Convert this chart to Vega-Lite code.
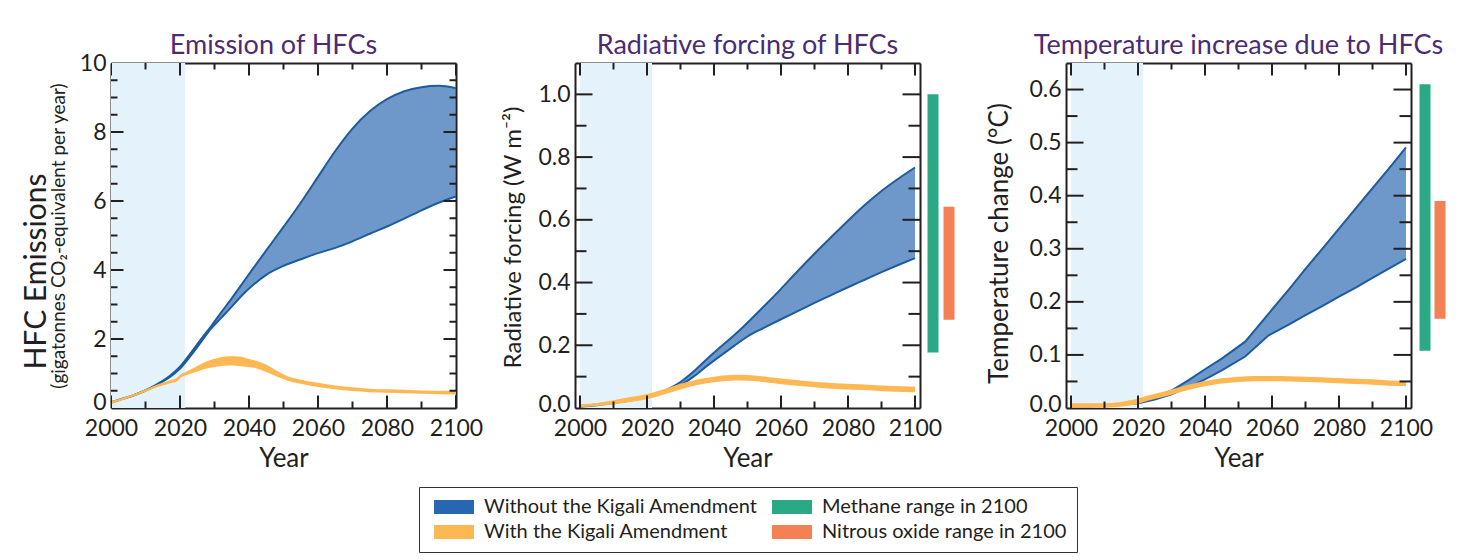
{
  "$schema": "https://vega.github.io/schema/vega-lite/v6.json",
  "autosize": "none",
  "padding": {"left": 111, "top": 63, "right": 1350, "bottom": 497},
  "background": "white",
  "datasets": {
    "hist": [{"start": 2000, "end": 2021.5}],
    "xt": [
      {"v": 2000, "kind": "major"}, {"v": 2010, "kind": "minor"}, {"v": 2020, "kind": "major"}, {"v": 2030, "kind": "minor"},
      {"v": 2040, "kind": "major"}, {"v": 2050, "kind": "minor"}, {"v": 2060, "kind": "major"}, {"v": 2070, "kind": "minor"},
      {"v": 2080, "kind": "major"}, {"v": 2090, "kind": "minor"}, {"v": 2100, "kind": "major"}
    ],
    "yt1": [
      {"v": 0.5, "kind": "minor"}, {"v": 1, "kind": "minor"}, {"v": 1.5, "kind": "minor"}, {"v": 2, "kind": "major"},
      {"v": 2.5, "kind": "minor"}, {"v": 3, "kind": "minor"}, {"v": 3.5, "kind": "minor"}, {"v": 4, "kind": "major"},
      {"v": 4.5, "kind": "minor"}, {"v": 5, "kind": "minor"}, {"v": 5.5, "kind": "minor"}, {"v": 6, "kind": "major"},
      {"v": 6.5, "kind": "minor"}, {"v": 7, "kind": "minor"}, {"v": 7.5, "kind": "minor"}, {"v": 8, "kind": "major"},
      {"v": 8.5, "kind": "minor"}, {"v": 9, "kind": "minor"}, {"v": 9.5, "kind": "minor"}
    ],
    "yt2": [
      {"v": 0.1, "kind": "minor"}, {"v": 0.2, "kind": "major"}, {"v": 0.3, "kind": "minor"}, {"v": 0.4, "kind": "major"},
      {"v": 0.5, "kind": "minor"}, {"v": 0.6, "kind": "major"}, {"v": 0.7, "kind": "minor"}, {"v": 0.8, "kind": "major"},
      {"v": 0.9, "kind": "minor"}, {"v": 1.0, "kind": "major"}
    ],
    "yt3": [
      {"v": 0.05, "kind": "minor"}, {"v": 0.1, "kind": "major"}, {"v": 0.15, "kind": "minor"}, {"v": 0.2, "kind": "major"},
      {"v": 0.25, "kind": "minor"}, {"v": 0.3, "kind": "major"}, {"v": 0.35, "kind": "minor"}, {"v": 0.4, "kind": "major"},
      {"v": 0.45, "kind": "minor"}, {"v": 0.5, "kind": "major"}, {"v": 0.55, "kind": "minor"}, {"v": 0.6, "kind": "major"}
    ],
    "p1": [
      {"year": 2000, "series": "Without the Kigali Amendment", "lo": 0.16, "hi": 0.17},
      {"year": 2004, "series": "Without the Kigali Amendment", "lo": 0.28, "hi": 0.29},
      {"year": 2008, "series": "Without the Kigali Amendment", "lo": 0.42, "hi": 0.43},
      {"year": 2011, "series": "Without the Kigali Amendment", "lo": 0.55, "hi": 0.56},
      {"year": 2014, "series": "Without the Kigali Amendment", "lo": 0.71, "hi": 0.73},
      {"year": 2017, "series": "Without the Kigali Amendment", "lo": 0.89, "hi": 0.93},
      {"year": 2020, "series": "Without the Kigali Amendment", "lo": 1.14, "hi": 1.2},
      {"year": 2023, "series": "Without the Kigali Amendment", "lo": 1.5, "hi": 1.58},
      {"year": 2026, "series": "Without the Kigali Amendment", "lo": 1.9, "hi": 1.98},
      {"year": 2029, "series": "Without the Kigali Amendment", "lo": 2.3, "hi": 2.37},
      {"year": 2032, "series": "Without the Kigali Amendment", "lo": 2.62, "hi": 2.78},
      {"year": 2035, "series": "Without the Kigali Amendment", "lo": 2.94, "hi": 3.18},
      {"year": 2038, "series": "Without the Kigali Amendment", "lo": 3.27, "hi": 3.6},
      {"year": 2041, "series": "Without the Kigali Amendment", "lo": 3.55, "hi": 4.02},
      {"year": 2045, "series": "Without the Kigali Amendment", "lo": 3.86, "hi": 4.57},
      {"year": 2050, "series": "Without the Kigali Amendment", "lo": 4.12, "hi": 5.25},
      {"year": 2055, "series": "Without the Kigali Amendment", "lo": 4.31, "hi": 5.95},
      {"year": 2060, "series": "Without the Kigali Amendment", "lo": 4.49, "hi": 6.7},
      {"year": 2065, "series": "Without the Kigali Amendment", "lo": 4.64, "hi": 7.45},
      {"year": 2070, "series": "Without the Kigali Amendment", "lo": 4.83, "hi": 8.1},
      {"year": 2075, "series": "Without the Kigali Amendment", "lo": 5.05, "hi": 8.6},
      {"year": 2080, "series": "Without the Kigali Amendment", "lo": 5.26, "hi": 8.95},
      {"year": 2085, "series": "Without the Kigali Amendment", "lo": 5.49, "hi": 9.18},
      {"year": 2090, "series": "Without the Kigali Amendment", "lo": 5.73, "hi": 9.3},
      {"year": 2095, "series": "Without the Kigali Amendment", "lo": 5.95, "hi": 9.34},
      {"year": 2100, "series": "Without the Kigali Amendment", "lo": 6.13, "hi": 9.27},
      {"year": 2000, "series": "With the Kigali Amendment", "lo": 0.12, "hi": 0.2},
      {"year": 2004, "series": "With the Kigali Amendment", "lo": 0.25, "hi": 0.32},
      {"year": 2008, "series": "With the Kigali Amendment", "lo": 0.39, "hi": 0.46},
      {"year": 2011, "series": "With the Kigali Amendment", "lo": 0.51, "hi": 0.58},
      {"year": 2014, "series": "With the Kigali Amendment", "lo": 0.62, "hi": 0.7},
      {"year": 2017, "series": "With the Kigali Amendment", "lo": 0.71, "hi": 0.8},
      {"year": 2019, "series": "With the Kigali Amendment", "lo": 0.76, "hi": 0.87},
      {"year": 2020.5, "series": "With the Kigali Amendment", "lo": 0.9, "hi": 1.0},
      {"year": 2022, "series": "With the Kigali Amendment", "lo": 0.96, "hi": 1.06},
      {"year": 2025, "series": "With the Kigali Amendment", "lo": 1.06, "hi": 1.22},
      {"year": 2028, "series": "With the Kigali Amendment", "lo": 1.15, "hi": 1.36},
      {"year": 2031, "series": "With the Kigali Amendment", "lo": 1.2, "hi": 1.45},
      {"year": 2034, "series": "With the Kigali Amendment", "lo": 1.23, "hi": 1.5},
      {"year": 2037, "series": "With the Kigali Amendment", "lo": 1.22, "hi": 1.49},
      {"year": 2040, "series": "With the Kigali Amendment", "lo": 1.19, "hi": 1.42},
      {"year": 2042, "series": "With the Kigali Amendment", "lo": 1.15, "hi": 1.37},
      {"year": 2045, "series": "With the Kigali Amendment", "lo": 1.04, "hi": 1.26},
      {"year": 2048, "series": "With the Kigali Amendment", "lo": 0.91, "hi": 1.08},
      {"year": 2051, "series": "With the Kigali Amendment", "lo": 0.8, "hi": 0.93},
      {"year": 2055, "series": "With the Kigali Amendment", "lo": 0.7, "hi": 0.82},
      {"year": 2060, "series": "With the Kigali Amendment", "lo": 0.61, "hi": 0.73},
      {"year": 2065, "series": "With the Kigali Amendment", "lo": 0.54, "hi": 0.65},
      {"year": 2070, "series": "With the Kigali Amendment", "lo": 0.49, "hi": 0.6},
      {"year": 2075, "series": "With the Kigali Amendment", "lo": 0.46, "hi": 0.56},
      {"year": 2080, "series": "With the Kigali Amendment", "lo": 0.44, "hi": 0.54},
      {"year": 2090, "series": "With the Kigali Amendment", "lo": 0.41, "hi": 0.51},
      {"year": 2100, "series": "With the Kigali Amendment", "lo": 0.39, "hi": 0.5}
    ],
    "p2": [
      {"year": 2000, "series": "Without the Kigali Amendment", "lo": 0.004, "hi": 0.006},
      {"year": 2005, "series": "Without the Kigali Amendment", "lo": 0.009, "hi": 0.011},
      {"year": 2010, "series": "Without the Kigali Amendment", "lo": 0.016, "hi": 0.018},
      {"year": 2015, "series": "Without the Kigali Amendment", "lo": 0.024, "hi": 0.026},
      {"year": 2020, "series": "Without the Kigali Amendment", "lo": 0.034, "hi": 0.036},
      {"year": 2023, "series": "Without the Kigali Amendment", "lo": 0.043, "hi": 0.046},
      {"year": 2026, "series": "Without the Kigali Amendment", "lo": 0.054, "hi": 0.059},
      {"year": 2030, "series": "Without the Kigali Amendment", "lo": 0.073, "hi": 0.083},
      {"year": 2034, "series": "Without the Kigali Amendment", "lo": 0.101, "hi": 0.117},
      {"year": 2038, "series": "Without the Kigali Amendment", "lo": 0.135, "hi": 0.157},
      {"year": 2042, "series": "Without the Kigali Amendment", "lo": 0.167, "hi": 0.195},
      {"year": 2046, "series": "Without the Kigali Amendment", "lo": 0.198, "hi": 0.232},
      {"year": 2050, "series": "Without the Kigali Amendment", "lo": 0.228, "hi": 0.272},
      {"year": 2055, "series": "Without the Kigali Amendment", "lo": 0.256, "hi": 0.325},
      {"year": 2060, "series": "Without the Kigali Amendment", "lo": 0.283, "hi": 0.38},
      {"year": 2065, "series": "Without the Kigali Amendment", "lo": 0.309, "hi": 0.437},
      {"year": 2070, "series": "Without the Kigali Amendment", "lo": 0.335, "hi": 0.492},
      {"year": 2075, "series": "Without the Kigali Amendment", "lo": 0.36, "hi": 0.545},
      {"year": 2080, "series": "Without the Kigali Amendment", "lo": 0.385, "hi": 0.597},
      {"year": 2085, "series": "Without the Kigali Amendment", "lo": 0.409, "hi": 0.647},
      {"year": 2090, "series": "Without the Kigali Amendment", "lo": 0.433, "hi": 0.692},
      {"year": 2095, "series": "Without the Kigali Amendment", "lo": 0.456, "hi": 0.731},
      {"year": 2100, "series": "Without the Kigali Amendment", "lo": 0.478, "hi": 0.767},
      {"year": 2000, "series": "With the Kigali Amendment", "lo": 0.002, "hi": 0.012},
      {"year": 2005, "series": "With the Kigali Amendment", "lo": 0.006, "hi": 0.016},
      {"year": 2010, "series": "With the Kigali Amendment", "lo": 0.011, "hi": 0.025},
      {"year": 2015, "series": "With the Kigali Amendment", "lo": 0.019, "hi": 0.035},
      {"year": 2020, "series": "With the Kigali Amendment", "lo": 0.028, "hi": 0.045},
      {"year": 2025, "series": "With the Kigali Amendment", "lo": 0.043, "hi": 0.06},
      {"year": 2030, "series": "With the Kigali Amendment", "lo": 0.059, "hi": 0.077},
      {"year": 2035, "series": "With the Kigali Amendment", "lo": 0.073, "hi": 0.091},
      {"year": 2040, "series": "With the Kigali Amendment", "lo": 0.082, "hi": 0.1},
      {"year": 2045, "series": "With the Kigali Amendment", "lo": 0.087, "hi": 0.105},
      {"year": 2048, "series": "With the Kigali Amendment", "lo": 0.088, "hi": 0.106},
      {"year": 2052, "series": "With the Kigali Amendment", "lo": 0.086, "hi": 0.104},
      {"year": 2056, "series": "With the Kigali Amendment", "lo": 0.081, "hi": 0.099},
      {"year": 2060, "series": "With the Kigali Amendment", "lo": 0.076, "hi": 0.094},
      {"year": 2066, "series": "With the Kigali Amendment", "lo": 0.07, "hi": 0.088},
      {"year": 2072, "series": "With the Kigali Amendment", "lo": 0.064, "hi": 0.082},
      {"year": 2078, "series": "With the Kigali Amendment", "lo": 0.06, "hi": 0.078},
      {"year": 2085, "series": "With the Kigali Amendment", "lo": 0.057, "hi": 0.075},
      {"year": 2092, "series": "With the Kigali Amendment", "lo": 0.053, "hi": 0.071},
      {"year": 2100, "series": "With the Kigali Amendment", "lo": 0.05, "hi": 0.068}
    ],
    "p3": [
      {"year": 2000, "series": "Without the Kigali Amendment", "lo": 0.003, "hi": 0.004},
      {"year": 2005, "series": "Without the Kigali Amendment", "lo": 0.003, "hi": 0.004},
      {"year": 2010, "series": "Without the Kigali Amendment", "lo": 0.004, "hi": 0.005},
      {"year": 2015, "series": "Without the Kigali Amendment", "lo": 0.006, "hi": 0.007},
      {"year": 2020, "series": "Without the Kigali Amendment", "lo": 0.009, "hi": 0.011},
      {"year": 2025, "series": "Without the Kigali Amendment", "lo": 0.016, "hi": 0.02},
      {"year": 2030, "series": "Without the Kigali Amendment", "lo": 0.026, "hi": 0.033},
      {"year": 2035, "series": "Without the Kigali Amendment", "lo": 0.039, "hi": 0.052},
      {"year": 2040, "series": "Without the Kigali Amendment", "lo": 0.054, "hi": 0.073},
      {"year": 2045, "series": "Without the Kigali Amendment", "lo": 0.071, "hi": 0.093},
      {"year": 2052, "series": "Without the Kigali Amendment", "lo": 0.097, "hi": 0.125},
      {"year": 2059, "series": "Without the Kigali Amendment", "lo": 0.137, "hi": 0.178},
      {"year": 2065, "series": "Without the Kigali Amendment", "lo": 0.157, "hi": 0.223},
      {"year": 2070, "series": "Without the Kigali Amendment", "lo": 0.175, "hi": 0.262},
      {"year": 2075, "series": "Without the Kigali Amendment", "lo": 0.192, "hi": 0.3},
      {"year": 2080, "series": "Without the Kigali Amendment", "lo": 0.21, "hi": 0.338},
      {"year": 2085, "series": "Without the Kigali Amendment", "lo": 0.227, "hi": 0.376},
      {"year": 2090, "series": "Without the Kigali Amendment", "lo": 0.245, "hi": 0.414},
      {"year": 2095, "series": "Without the Kigali Amendment", "lo": 0.263, "hi": 0.452},
      {"year": 2100, "series": "Without the Kigali Amendment", "lo": 0.281, "hi": 0.491},
      {"year": 2000, "series": "With the Kigali Amendment", "lo": 0.0005, "hi": 0.009},
      {"year": 2010, "series": "With the Kigali Amendment", "lo": 0.0005, "hi": 0.009},
      {"year": 2014, "series": "With the Kigali Amendment", "lo": 0.002, "hi": 0.011},
      {"year": 2018, "series": "With the Kigali Amendment", "lo": 0.005, "hi": 0.015},
      {"year": 2021, "series": "With the Kigali Amendment", "lo": 0.01, "hi": 0.02},
      {"year": 2025, "series": "With the Kigali Amendment", "lo": 0.017, "hi": 0.027},
      {"year": 2030, "series": "With the Kigali Amendment", "lo": 0.025, "hi": 0.035},
      {"year": 2035, "series": "With the Kigali Amendment", "lo": 0.034, "hi": 0.044},
      {"year": 2040, "series": "With the Kigali Amendment", "lo": 0.041, "hi": 0.051},
      {"year": 2045, "series": "With the Kigali Amendment", "lo": 0.046, "hi": 0.056},
      {"year": 2050, "series": "With the Kigali Amendment", "lo": 0.049, "hi": 0.059},
      {"year": 2055, "series": "With the Kigali Amendment", "lo": 0.0505, "hi": 0.0605},
      {"year": 2060, "series": "With the Kigali Amendment", "lo": 0.0505, "hi": 0.0605},
      {"year": 2065, "series": "With the Kigali Amendment", "lo": 0.05, "hi": 0.06},
      {"year": 2070, "series": "With the Kigali Amendment", "lo": 0.049, "hi": 0.059},
      {"year": 2075, "series": "With the Kigali Amendment", "lo": 0.048, "hi": 0.058},
      {"year": 2080, "series": "With the Kigali Amendment", "lo": 0.0465, "hi": 0.0565},
      {"year": 2085, "series": "With the Kigali Amendment", "lo": 0.045, "hi": 0.055},
      {"year": 2090, "series": "With the Kigali Amendment", "lo": 0.044, "hi": 0.054},
      {"year": 2095, "series": "With the Kigali Amendment", "lo": 0.042, "hi": 0.052},
      {"year": 2100, "series": "With the Kigali Amendment", "lo": 0.041, "hi": 0.051}
    ],
    "r2": [
      {"gas": "Methane range in 2100", "year": 2100, "lo": 0.177, "hi": 1.0},
      {"gas": "Nitrous oxide range in 2100", "year": 2100, "lo": 0.281, "hi": 0.642}
    ],
    "r3": [
      {"gas": "Methane range in 2100", "year": 2100, "lo": 0.108, "hi": 0.61},
      {"gas": "Nitrous oxide range in 2100", "year": 2100, "lo": 0.168, "hi": 0.39}
    ]
  },
  "hconcat": [
    {
      "width": 345, "height": 345,
      "title": {"text": "Emission of HFCs", "dy": 17, "dx": -10},
      "layer": [
        {"data": {"name": "hist"}, "mark": {"type": "rect", "color": "#E4F3FB"},
         "encoding": {"x": {"field": "start", "type": "quantitative", "scale": {"domain": [2000, 2100], "nice": false, "zero": false},
           "axis": {"orient": "bottom", "values": [2000, 2020, 2040, 2060, 2080, 2100], "format": "d", "ticks": false, "domain": true, "labelPadding": 9, "title": "Year", "titleY": 58, "titleBaseline": "alphabetic"}},
           "x2": {"field": "end"}}},
        {"data": {"name": "p1"}, "transform": [{"filter": "datum.series === 'Without the Kigali Amendment'"}],
         "mark": {"type": "area", "interpolate": "monotone", "fillOpacity": 0.67},
         "encoding": {
           "x": {"field": "year", "type": "quantitative", "scale": {"domain": [2000, 2100], "nice": false, "zero": false},
                 "axis": {"orient": "top", "domain": true, "ticks": false, "labels": false, "title": null}},
           "y": {"field": "lo", "type": "quantitative", "scale": {"domain": [0, 10], "nice": false},
                 "axis": {"orient": "left", "values": [0, 2, 4, 6, 8, 10], "format": "d", "ticks": false, "domain": true, "labelPadding": 5, "labelOffset": {"condition": {"test": "datum.value === 0", "value": -6}, "value": 0}, "title": "HFC Emissions", "titleFontSize": 30, "titleX": -66, "titleY": 208, "titleAngle": 270, "titleAlign": "center", "titleBaseline": "alphabetic"}},
           "y2": {"field": "hi"},
           "color": {"field": "series", "type": "nominal", "scale": {"domain": ["Without the Kigali Amendment", "With the Kigali Amendment", "Methane range in 2100", "Nitrous oxide range in 2100"], "range": ["#2766B0", "#FDB853", "#2BA985", "#F48154"]}, "legend": null}
         }},
        {"data": {"name": "p1"}, "transform": [{"filter": "datum.series === 'Without the Kigali Amendment'"}],
         "mark": {"type": "line", "interpolate": "monotone", "color": "#1D5C9E", "strokeWidth": 2},
         "encoding": {
           "x": {"field": "year", "type": "quantitative", "scale": {"domain": [2000, 2100], "nice": false, "zero": false}, "axis": null},
           "y": {"field": "hi", "type": "quantitative", "scale": {"domain": [0, 10], "nice": false},
                 "axis": {"orient": "right", "domain": true, "ticks": false, "labels": false, "title": null}}
         }},
        {"data": {"name": "p1"}, "transform": [{"filter": "datum.series === 'Without the Kigali Amendment'"}],
         "mark": {"type": "line", "interpolate": "monotone", "color": "#1D5C9E", "strokeWidth": 2},
         "encoding": {
           "x": {"field": "year", "type": "quantitative", "scale": {"domain": [2000, 2100], "nice": false, "zero": false}, "axis": null},
           "y": {"field": "lo", "type": "quantitative", "scale": {"domain": [0, 10], "nice": false}, "axis": null}
         }},
        {"data": {"name": "p1"}, "transform": [{"filter": "datum.series === 'With the Kigali Amendment'"}],
         "mark": {"type": "area", "interpolate": "monotone"},
         "encoding": {
           "x": {"field": "year", "type": "quantitative", "scale": {"domain": [2000, 2100], "nice": false, "zero": false}, "axis": null},
           "y": {"field": "lo", "type": "quantitative", "scale": {"domain": [0, 10], "nice": false},
                 "axis": {"orient": "left", "ticks": false, "labels": false, "domain": false, "title": "(gigatonnes CO₂-equivalent per year)", "titleFontSize": 19, "titleX": -47, "titleY": 172.5, "titleAngle": 270, "titleAlign": "center", "titleBaseline": "alphabetic"}},
           "y2": {"field": "hi"},
           "color": {"field": "series", "type": "nominal", "scale": {"domain": ["Without the Kigali Amendment", "With the Kigali Amendment", "Methane range in 2100", "Nitrous oxide range in 2100"], "range": ["#2766B0", "#FDB853", "#2BA985", "#F48154"]}, "legend": null}
         }},
        {"data": {"name": "xt"}, "mark": {"type": "tick", "orient": "vertical", "clip": true, "color": "#231F20", "thickness": 2, "opacity": 1},
         "encoding": {"x": {"field": "v", "type": "quantitative", "scale": {"domain": [2000, 2100], "nice": false, "zero": false}, "axis": null},
           "y": {"datum": 10, "type": "quantitative", "scale": {"domain": [0, 10], "nice": false}, "axis": null},
           "size": {"field": "kind", "type": "ordinal", "scale": {"domain": ["major", "minor"], "range": [25, 13]}, "legend": null}}},
        {"data": {"name": "xt"}, "mark": {"type": "tick", "orient": "vertical", "clip": true, "color": "#231F20", "thickness": 2, "opacity": 1},
         "encoding": {"x": {"field": "v", "type": "quantitative", "scale": {"domain": [2000, 2100], "nice": false, "zero": false}, "axis": null},
           "y": {"datum": 0, "type": "quantitative", "scale": {"domain": [0, 10], "nice": false}, "axis": null},
           "size": {"field": "kind", "type": "ordinal", "scale": {"domain": ["major", "minor"], "range": [25, 13]}, "legend": null}}},
        {"data": {"name": "yt1"}, "mark": {"type": "tick", "orient": "horizontal", "clip": true, "color": "#231F20", "thickness": 2, "opacity": 1},
         "encoding": {"y": {"field": "v", "type": "quantitative", "scale": {"domain": [0, 10], "nice": false}, "axis": null},
           "x": {"datum": 2000, "type": "quantitative", "scale": {"domain": [2000, 2100], "nice": false, "zero": false}, "axis": null},
           "size": {"field": "kind", "type": "ordinal", "scale": {"domain": ["major", "minor"], "range": [25, 13]}, "legend": null}}},
        {"data": {"name": "yt1"}, "mark": {"type": "tick", "orient": "horizontal", "clip": true, "color": "#231F20", "thickness": 2, "opacity": 1},
         "encoding": {"y": {"field": "v", "type": "quantitative", "scale": {"domain": [0, 10], "nice": false}, "axis": null},
           "x": {"datum": 2100, "type": "quantitative", "scale": {"domain": [2000, 2100], "nice": false, "zero": false}, "axis": null},
           "size": {"field": "kind", "type": "ordinal", "scale": {"domain": ["major", "minor"], "range": [25, 13]}, "legend": null}}}
      ],
      "resolve": {"axis": {"x": "independent", "y": "independent"}}
    },
    {"width": 119, "height": 345, "data": {"values": []}, "mark": {"type": "point"}},
    {
      "width": 345, "height": 345,
      "title": {"text": "Radiative forcing of HFCs", "dy": 6},
      "layer": [
        {"data": {"name": "hist"}, "mark": {"type": "rect", "color": "#E4F3FB"},
         "encoding": {"x": {"field": "start", "type": "quantitative", "scale": {"domain": [2000, 2100], "nice": false, "zero": false},
           "axis": {"orient": "bottom", "values": [2000, 2020, 2040, 2060, 2080, 2100], "format": "d", "ticks": false, "domain": true, "labelPadding": 9, "title": "Year", "titleY": 58, "titleBaseline": "alphabetic"}},
           "x2": {"field": "end"}}},
        {"data": {"name": "p2"}, "transform": [{"filter": "datum.series === 'Without the Kigali Amendment'"}],
         "mark": {"type": "area", "interpolate": "monotone", "fillOpacity": 0.67},
         "encoding": {
           "x": {"field": "year", "type": "quantitative", "scale": {"domain": [2000, 2100], "nice": false, "zero": false},
                 "axis": {"orient": "top", "domain": true, "ticks": false, "labels": false, "title": null}},
           "y": {"field": "lo", "type": "quantitative", "scale": {"domain": [0, 1.1], "nice": false},
                 "axis": {"orient": "left", "values": [0, 0.2, 0.4, 0.6, 0.8, 1.0], "format": ".1f", "ticks": false, "domain": true, "labelPadding": 5, "labelOffset": {"condition": {"test": "datum.value === 0", "value": -4}, "value": 0}, "title": "Radiative forcing (W m⁻²)", "titleX": -55, "titleY": 174, "titleAngle": 270, "titleAlign": "center", "titleBaseline": "alphabetic"}},
           "y2": {"field": "hi"},
           "color": {"field": "series", "type": "nominal", "scale": {"domain": ["Without the Kigali Amendment", "With the Kigali Amendment", "Methane range in 2100", "Nitrous oxide range in 2100"], "range": ["#2766B0", "#FDB853", "#2BA985", "#F48154"]},
                     "legend": {"orient": "none", "legendX": -156, "legendY": 424, "columns": 2, "title": null, "symbolType": "M-2,-0.7H2V0.7H-2Z", "symbolSize": 400, "symbolOffset": 15, "symbolStrokeWidth": 0, "symbolOpacity": 1, "labelFont": "Lato", "labelFontSize": 20, "labelColor": "#231F20", "labelOffset": 20, "columnPadding": 9, "rowPadding": 5, "padding": 10, "strokeColor": "#333333", "fillColor": "white", "labelLimit": 400}}
         }},
        {"data": {"name": "p2"}, "transform": [{"filter": "datum.series === 'Without the Kigali Amendment'"}],
         "mark": {"type": "line", "interpolate": "monotone", "color": "#1D5C9E", "strokeWidth": 2},
         "encoding": {
           "x": {"field": "year", "type": "quantitative", "scale": {"domain": [2000, 2100], "nice": false, "zero": false}, "axis": null},
           "y": {"field": "hi", "type": "quantitative", "scale": {"domain": [0, 1.1], "nice": false},
                 "axis": {"orient": "right", "domain": true, "ticks": false, "labels": false, "title": null}}
         }},
        {"data": {"name": "p2"}, "transform": [{"filter": "datum.series === 'Without the Kigali Amendment'"}],
         "mark": {"type": "line", "interpolate": "monotone", "color": "#1D5C9E", "strokeWidth": 2},
         "encoding": {
           "x": {"field": "year", "type": "quantitative", "scale": {"domain": [2000, 2100], "nice": false, "zero": false}, "axis": null},
           "y": {"field": "lo", "type": "quantitative", "scale": {"domain": [0, 1.1], "nice": false}, "axis": null}
         }},
        {"data": {"name": "p2"}, "transform": [{"filter": "datum.series === 'With the Kigali Amendment'"}],
         "mark": {"type": "area", "interpolate": "monotone"},
         "encoding": {
           "x": {"field": "year", "type": "quantitative", "scale": {"domain": [2000, 2100], "nice": false, "zero": false}, "axis": null},
           "y": {"field": "lo", "type": "quantitative", "scale": {"domain": [0, 1.1], "nice": false}, "axis": null},
           "y2": {"field": "hi"},
           "color": {"field": "series", "type": "nominal", "scale": {"domain": ["Without the Kigali Amendment", "With the Kigali Amendment", "Methane range in 2100", "Nitrous oxide range in 2100"], "range": ["#2766B0", "#FDB853", "#2BA985", "#F48154"]},
                     "legend": {"orient": "none", "legendX": -156, "legendY": 424, "columns": 2, "title": null, "symbolType": "M-2,-0.7H2V0.7H-2Z", "symbolSize": 400, "symbolOffset": 15, "symbolStrokeWidth": 0, "symbolOpacity": 1, "labelFont": "Lato", "labelFontSize": 20, "labelColor": "#231F20", "labelOffset": 20, "columnPadding": 9, "rowPadding": 5, "padding": 10, "strokeColor": "#333333", "fillColor": "white", "labelLimit": 400}}
         }},
        {"data": {"name": "r2"}, "transform": [{"filter": "datum.gas === 'Methane range in 2100'"}],
         "mark": {"type": "bar", "size": 11, "xOffset": 18},
         "encoding": {
           "x": {"field": "year", "type": "quantitative", "scale": {"domain": [2000, 2100], "nice": false, "zero": false}, "axis": null},
           "y": {"field": "lo", "type": "quantitative", "scale": {"domain": [0, 1.1], "nice": false}, "axis": null},
           "y2": {"field": "hi"},
           "color": {"field": "gas", "type": "nominal", "scale": {"domain": ["Without the Kigali Amendment", "With the Kigali Amendment", "Methane range in 2100", "Nitrous oxide range in 2100"], "range": ["#2766B0", "#FDB853", "#2BA985", "#F48154"]},
                     "legend": {"orient": "none", "legendX": -156, "legendY": 424, "columns": 2, "title": null, "symbolType": "M-2,-0.7H2V0.7H-2Z", "symbolSize": 400, "symbolOffset": 15, "symbolStrokeWidth": 0, "symbolOpacity": 1, "labelFont": "Lato", "labelFontSize": 20, "labelColor": "#231F20", "labelOffset": 20, "columnPadding": 9, "rowPadding": 5, "padding": 10, "strokeColor": "#333333", "fillColor": "white", "labelLimit": 400}}
         }},
        {"data": {"name": "r2"}, "transform": [{"filter": "datum.gas === 'Nitrous oxide range in 2100'"}],
         "mark": {"type": "bar", "size": 11, "xOffset": 34},
         "encoding": {
           "x": {"field": "year", "type": "quantitative", "scale": {"domain": [2000, 2100], "nice": false, "zero": false}, "axis": null},
           "y": {"field": "lo", "type": "quantitative", "scale": {"domain": [0, 1.1], "nice": false}, "axis": null},
           "y2": {"field": "hi"},
           "color": {"field": "gas", "type": "nominal", "scale": {"domain": ["Without the Kigali Amendment", "With the Kigali Amendment", "Methane range in 2100", "Nitrous oxide range in 2100"], "range": ["#2766B0", "#FDB853", "#2BA985", "#F48154"]},
                     "legend": {"orient": "none", "legendX": -156, "legendY": 424, "columns": 2, "title": null, "symbolType": "M-2,-0.7H2V0.7H-2Z", "symbolSize": 400, "symbolOffset": 15, "symbolStrokeWidth": 0, "symbolOpacity": 1, "labelFont": "Lato", "labelFontSize": 20, "labelColor": "#231F20", "labelOffset": 20, "columnPadding": 9, "rowPadding": 5, "padding": 10, "strokeColor": "#333333", "fillColor": "white", "labelLimit": 400}}
         }},
        {"data": {"name": "xt"}, "mark": {"type": "tick", "orient": "vertical", "clip": true, "color": "#231F20", "thickness": 2, "opacity": 1},
         "encoding": {"x": {"field": "v", "type": "quantitative", "scale": {"domain": [2000, 2100], "nice": false, "zero": false}, "axis": null},
           "y": {"datum": 1.1, "type": "quantitative", "scale": {"domain": [0, 1.1], "nice": false}, "axis": null},
           "size": {"field": "kind", "type": "ordinal", "scale": {"domain": ["major", "minor"], "range": [25, 13]}, "legend": null}}},
        {"data": {"name": "xt"}, "mark": {"type": "tick", "orient": "vertical", "clip": true, "color": "#231F20", "thickness": 2, "opacity": 1},
         "encoding": {"x": {"field": "v", "type": "quantitative", "scale": {"domain": [2000, 2100], "nice": false, "zero": false}, "axis": null},
           "y": {"datum": 0, "type": "quantitative", "scale": {"domain": [0, 1.1], "nice": false}, "axis": null},
           "size": {"field": "kind", "type": "ordinal", "scale": {"domain": ["major", "minor"], "range": [25, 13]}, "legend": null}}},
        {"data": {"name": "yt2"}, "mark": {"type": "tick", "orient": "horizontal", "clip": true, "color": "#231F20", "thickness": 2, "opacity": 1},
         "encoding": {"y": {"field": "v", "type": "quantitative", "scale": {"domain": [0, 1.1], "nice": false}, "axis": null},
           "x": {"datum": 2000, "type": "quantitative", "scale": {"domain": [2000, 2100], "nice": false, "zero": false}, "axis": null},
           "size": {"field": "kind", "type": "ordinal", "scale": {"domain": ["major", "minor"], "range": [25, 13]}, "legend": null}}},
        {"data": {"name": "yt2"}, "mark": {"type": "tick", "orient": "horizontal", "clip": true, "color": "#231F20", "thickness": 2, "opacity": 1},
         "encoding": {"y": {"field": "v", "type": "quantitative", "scale": {"domain": [0, 1.1], "nice": false}, "axis": null},
           "x": {"datum": 2100, "type": "quantitative", "scale": {"domain": [2000, 2100], "nice": false, "zero": false}, "axis": null},
           "size": {"field": "kind", "type": "ordinal", "scale": {"domain": ["major", "minor"], "range": [25, 13]}, "legend": null}}}
      ],
      "resolve": {"axis": {"x": "independent", "y": "independent"}}
    },
    {"width": 146, "height": 345, "data": {"values": []}, "mark": {"type": "point"}},
    {
      "width": 345, "height": 345,
      "title": {"text": "Temperature increase due to HFCs", "dy": 6},
      "layer": [
        {"data": {"name": "hist"}, "mark": {"type": "rect", "color": "#E4F3FB"},
         "encoding": {"x": {"field": "start", "type": "quantitative", "scale": {"domain": [2000, 2100], "nice": false, "zero": false},
           "axis": {"orient": "bottom", "values": [2000, 2020, 2040, 2060, 2080, 2100], "format": "d", "ticks": false, "domain": true, "labelPadding": 9, "title": "Year", "titleY": 58, "titleBaseline": "alphabetic"}},
           "x2": {"field": "end"}}},
        {"data": {"name": "p3"}, "transform": [{"filter": "datum.series === 'Without the Kigali Amendment'"}],
         "mark": {"type": "area", "interpolate": "linear", "fillOpacity": 0.67},
         "encoding": {
           "x": {"field": "year", "type": "quantitative", "scale": {"domain": [2000, 2100], "nice": false, "zero": false},
                 "axis": {"orient": "top", "domain": true, "ticks": false, "labels": false, "title": null}},
           "y": {"field": "lo", "type": "quantitative", "scale": {"domain": [0, 0.65], "nice": false},
                 "axis": {"orient": "left", "values": [0, 0.1, 0.2, 0.3, 0.4, 0.5, 0.6], "format": ".1f", "ticks": false, "domain": true, "labelPadding": 5, "labelOffset": {"condition": {"test": "datum.value === 0", "value": -4}, "value": 0}, "title": "Temperature change (°C)", "titleFontSize": 26, "titleX": -59, "titleY": 180, "titleAngle": 270, "titleAlign": "center", "titleBaseline": "alphabetic"}},
           "y2": {"field": "hi"},
           "color": {"field": "series", "type": "nominal", "scale": {"domain": ["Without the Kigali Amendment", "With the Kigali Amendment", "Methane range in 2100", "Nitrous oxide range in 2100"], "range": ["#2766B0", "#FDB853", "#2BA985", "#F48154"]}, "legend": null}
         }},
        {"data": {"name": "p3"}, "transform": [{"filter": "datum.series === 'Without the Kigali Amendment'"}],
         "mark": {"type": "line", "interpolate": "linear", "color": "#1D5C9E", "strokeWidth": 2},
         "encoding": {
           "x": {"field": "year", "type": "quantitative", "scale": {"domain": [2000, 2100], "nice": false, "zero": false}, "axis": null},
           "y": {"field": "hi", "type": "quantitative", "scale": {"domain": [0, 0.65], "nice": false},
                 "axis": {"orient": "right", "domain": true, "ticks": false, "labels": false, "title": null}}
         }},
        {"data": {"name": "p3"}, "transform": [{"filter": "datum.series === 'Without the Kigali Amendment'"}],
         "mark": {"type": "line", "interpolate": "linear", "color": "#1D5C9E", "strokeWidth": 2},
         "encoding": {
           "x": {"field": "year", "type": "quantitative", "scale": {"domain": [2000, 2100], "nice": false, "zero": false}, "axis": null},
           "y": {"field": "lo", "type": "quantitative", "scale": {"domain": [0, 0.65], "nice": false}, "axis": null}
         }},
        {"data": {"name": "p3"}, "transform": [{"filter": "datum.series === 'With the Kigali Amendment'"}],
         "mark": {"type": "area", "interpolate": "monotone"},
         "encoding": {
           "x": {"field": "year", "type": "quantitative", "scale": {"domain": [2000, 2100], "nice": false, "zero": false}, "axis": null},
           "y": {"field": "lo", "type": "quantitative", "scale": {"domain": [0, 0.65], "nice": false}, "axis": null},
           "y2": {"field": "hi"},
           "color": {"field": "series", "type": "nominal", "scale": {"domain": ["Without the Kigali Amendment", "With the Kigali Amendment", "Methane range in 2100", "Nitrous oxide range in 2100"], "range": ["#2766B0", "#FDB853", "#2BA985", "#F48154"]}, "legend": null}
         }},
        {"data": {"name": "r3"}, "transform": [{"filter": "datum.gas === 'Methane range in 2100'"}],
         "mark": {"type": "bar", "size": 11, "xOffset": 19},
         "encoding": {
           "x": {"field": "year", "type": "quantitative", "scale": {"domain": [2000, 2100], "nice": false, "zero": false}, "axis": null},
           "y": {"field": "lo", "type": "quantitative", "scale": {"domain": [0, 0.65], "nice": false}, "axis": null},
           "y2": {"field": "hi"},
           "color": {"field": "gas", "type": "nominal", "scale": {"domain": ["Without the Kigali Amendment", "With the Kigali Amendment", "Methane range in 2100", "Nitrous oxide range in 2100"], "range": ["#2766B0", "#FDB853", "#2BA985", "#F48154"]}, "legend": null}
         }},
        {"data": {"name": "r3"}, "transform": [{"filter": "datum.gas === 'Nitrous oxide range in 2100'"}],
         "mark": {"type": "bar", "size": 11, "xOffset": 34},
         "encoding": {
           "x": {"field": "year", "type": "quantitative", "scale": {"domain": [2000, 2100], "nice": false, "zero": false}, "axis": null},
           "y": {"field": "lo", "type": "quantitative", "scale": {"domain": [0, 0.65], "nice": false}, "axis": null},
           "y2": {"field": "hi"},
           "color": {"field": "gas", "type": "nominal", "scale": {"domain": ["Without the Kigali Amendment", "With the Kigali Amendment", "Methane range in 2100", "Nitrous oxide range in 2100"], "range": ["#2766B0", "#FDB853", "#2BA985", "#F48154"]}, "legend": null}
         }},
        {"data": {"name": "xt"}, "mark": {"type": "tick", "orient": "vertical", "clip": true, "color": "#231F20", "thickness": 2, "opacity": 1},
         "encoding": {"x": {"field": "v", "type": "quantitative", "scale": {"domain": [2000, 2100], "nice": false, "zero": false}, "axis": null},
           "y": {"datum": 0.65, "type": "quantitative", "scale": {"domain": [0, 0.65], "nice": false}, "axis": null},
           "size": {"field": "kind", "type": "ordinal", "scale": {"domain": ["major", "minor"], "range": [25, 13]}, "legend": null}}},
        {"data": {"name": "xt"}, "mark": {"type": "tick", "orient": "vertical", "clip": true, "color": "#231F20", "thickness": 2, "opacity": 1},
         "encoding": {"x": {"field": "v", "type": "quantitative", "scale": {"domain": [2000, 2100], "nice": false, "zero": false}, "axis": null},
           "y": {"datum": 0, "type": "quantitative", "scale": {"domain": [0, 0.65], "nice": false}, "axis": null},
           "size": {"field": "kind", "type": "ordinal", "scale": {"domain": ["major", "minor"], "range": [25, 13]}, "legend": null}}},
        {"data": {"name": "yt3"}, "mark": {"type": "tick", "orient": "horizontal", "clip": true, "color": "#231F20", "thickness": 2, "opacity": 1},
         "encoding": {"y": {"field": "v", "type": "quantitative", "scale": {"domain": [0, 0.65], "nice": false}, "axis": null},
           "x": {"datum": 2000, "type": "quantitative", "scale": {"domain": [2000, 2100], "nice": false, "zero": false}, "axis": null},
           "size": {"field": "kind", "type": "ordinal", "scale": {"domain": ["major", "minor"], "range": [25, 13]}, "legend": null}}},
        {"data": {"name": "yt3"}, "mark": {"type": "tick", "orient": "horizontal", "clip": true, "color": "#231F20", "thickness": 2, "opacity": 1},
         "encoding": {"y": {"field": "v", "type": "quantitative", "scale": {"domain": [0, 0.65], "nice": false}, "axis": null},
           "x": {"datum": 2100, "type": "quantitative", "scale": {"domain": [2000, 2100], "nice": false, "zero": false}, "axis": null},
           "size": {"field": "kind", "type": "ordinal", "scale": {"domain": ["major", "minor"], "range": [25, 13]}, "legend": null}}}
      ],
      "resolve": {"axis": {"x": "independent", "y": "independent"}}
    }
  ],
  "spacing": 0,
  "bounds": "flush",
  "resolve": {"scale": {"color": "independent"}, "legend": {"color": "independent"}},
  "config": {
    "view": {"stroke": null},
    "font": "Lato",
    "axis": {"labelFont": "Lato", "labelFontSize": 23, "labelColor": "#231F20", "titleFont": "Lato", "titleFontSize": 24, "titleFontWeight": "normal", "titleColor": "#231F20", "domainColor": "#231F20", "domainWidth": 2, "grid": false, "zindex": 1, "labelFlush": false, "labelOverlap": false},
    "axisX": {"titleFontSize": 26},
    "title": {"font": "Lato", "fontSize": 27, "fontWeight": "normal", "color": "#4B2C72", "anchor": "middle", "frame": "group", "offset": 9, "baseline": "alphabetic"}
  }
}
